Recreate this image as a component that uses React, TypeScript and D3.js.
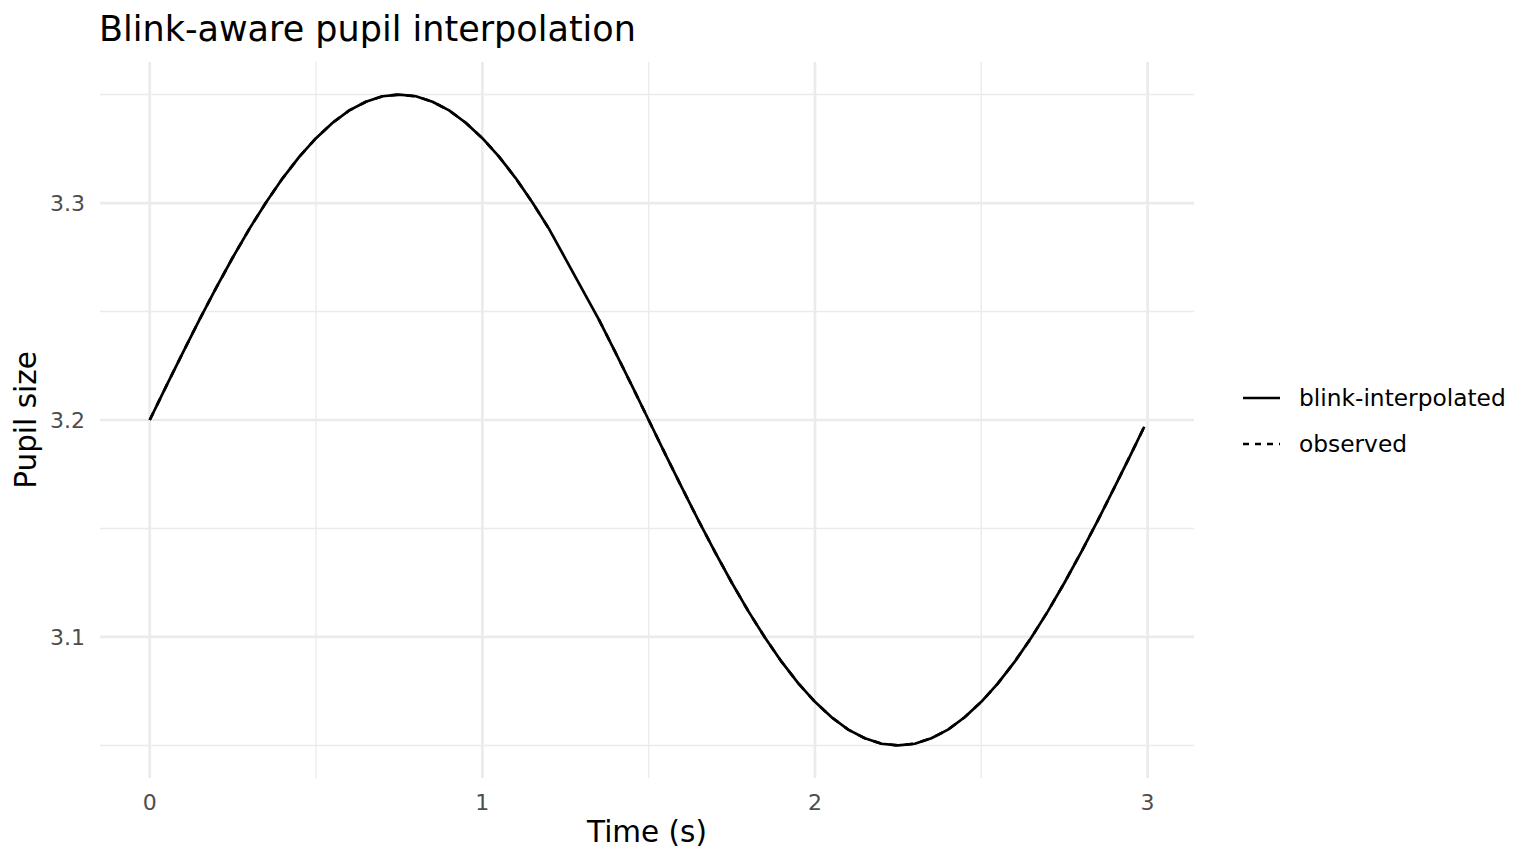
import React, { useEffect, useRef } from 'react';
import * as d3 from 'd3';

// time in seconds
const timeS = [
  0.0, 0.05, 0.1, 0.15, 0.2, 0.25, 0.3, 0.35, 0.4, 0.45, 0.5, 0.55, 0.6, 0.65, 0.7, 0.75,
  0.8, 0.85, 0.9, 0.95, 1.0, 1.05, 1.1, 1.15, 1.2, 1.25, 1.3, 1.35, 1.4, 1.45, 1.5, 1.55,
  1.6, 1.65, 1.7, 1.75, 1.8, 1.85, 1.9, 1.95, 2.0, 2.05, 2.1, 2.15, 2.2, 2.25, 2.3, 2.35,
  2.4, 2.45, 2.5, 2.55, 2.6, 2.65, 2.7, 2.75, 2.8, 2.85, 2.9, 2.95, 2.99,
];

// observed pupil size, blink samples missing
const observedPupil: (number | null)[] = [
  3.2, 3.2157, 3.2312, 3.2464, 3.261, 3.275, 3.2882, 3.3004, 3.3115, 3.3214, 3.3299, 3.337,
  3.3427, 3.3467, 3.3492, 3.35, 3.3492, 3.3467, 3.3427, 3.337, 3.3299, 3.3214, 3.3115, 3.3004,
  3.2882, null, null, 3.2464, 3.2312, 3.2157, 3.2, 3.1843, 3.1688, 3.1536, 3.139, 3.125,
  3.1118, 3.0996, 3.0885, 3.0786, 3.0701, 3.063, 3.0573, 3.0533, 3.0508, 3.05, 3.0508, 3.0533,
  3.0573, 3.063, 3.0701, 3.0786, 3.0885, 3.0996, 3.1118, 3.125, 3.139, 3.1536, 3.1688, 3.1843,
  3.1969,
];

// after linear fill across the blink
const interpolatedPupil = [
  3.2, 3.2157, 3.2312, 3.2464, 3.261, 3.275, 3.2882, 3.3004, 3.3115, 3.3214, 3.3299, 3.337,
  3.3427, 3.3467, 3.3492, 3.35, 3.3492, 3.3467, 3.3427, 3.337, 3.3299, 3.3214, 3.3115, 3.3004,
  3.2882, 3.2743, 3.2603, 3.2464, 3.2312, 3.2157, 3.2, 3.1843, 3.1688, 3.1536, 3.139, 3.125,
  3.1118, 3.0996, 3.0885, 3.0786, 3.0701, 3.063, 3.0573, 3.0533, 3.0508, 3.05, 3.0508, 3.0533,
  3.0573, 3.063, 3.0701, 3.0786, 3.0885, 3.0996, 3.1118, 3.125, 3.139, 3.1536, 3.1688, 3.1843,
  3.1969,
];

const xTicks = [0, 1, 2, 3];
const xMinor = [0.5, 1.5, 2.5];
const yTicks = [3.1, 3.2, 3.3];
const yMinor = [3.05, 3.15, 3.25, 3.35];
const seriesNames = ['blink-interpolated', 'observed'];

const width = 1536;
const height = 864;

export default function App() {
  const svgRef = useRef<SVGSVGElement>(null);

  useEffect(() => {
    if (!svgRef.current) return;
    const svg = d3.select(svgRef.current);
    svg.selectAll('*').remove();

    const font = '"DejaVu Sans", sans-serif';
    const panel = { left: 100, right: 1194, top: 62, bottom: 778 };

    const xExt = d3.extent(timeS) as [number, number];
    const xPad = (xExt[1] - xExt[0]) * 0.05;
    const x = d3.scaleLinear().domain([xExt[0] - xPad, xExt[1] + xPad]).range([panel.left, panel.right]);

    const yExt = d3.extent(interpolatedPupil) as [number, number];
    const yPad = (yExt[1] - yExt[0]) * 0.05;
    const y = d3.scaleLinear().domain([yExt[0] - yPad, yExt[1] + yPad]).range([panel.bottom, panel.top]);

    svg.append('rect').attr('width', width).attr('height', height).attr('fill', '#ffffff');

    const grid = svg.append('g');
    yMinor.forEach(v => {
      grid.append('line').attr('x1', panel.left).attr('x2', panel.right).attr('y1', y(v)).attr('y2', y(v))
        .attr('stroke', '#ebebeb').attr('stroke-width', 1.35);
    });
    xMinor.forEach(v => {
      grid.append('line').attr('x1', x(v)).attr('x2', x(v)).attr('y1', panel.top).attr('y2', panel.bottom)
        .attr('stroke', '#ebebeb').attr('stroke-width', 1.35);
    });
    yTicks.forEach(v => {
      grid.append('line').attr('x1', panel.left).attr('x2', panel.right).attr('y1', y(v)).attr('y2', y(v))
        .attr('stroke', '#ebebeb').attr('stroke-width', 2.7);
    });
    xTicks.forEach(v => {
      grid.append('line').attr('x1', x(v)).attr('x2', x(v)).attr('y1', panel.top).attr('y2', panel.bottom)
        .attr('stroke', '#ebebeb').attr('stroke-width', 2.7);
    });

    const obs = timeS.map((t, i) => ({ t, v: observedPupil[i] }));
    const interp = timeS.map((t, i) => ({ t, v: interpolatedPupil[i] as number | null }));

    const line = d3.line<{ t: number; v: number | null }>()
      .defined(d => d.v !== null)
      .x(d => x(d.t)).y(d => y(d.v as number));

    svg.append('path').datum(interp).attr('d', line)
      .attr('fill', 'none').attr('stroke', '#000000').attr('stroke-width', 2.7)
      .attr('stroke-linejoin', 'round');
    svg.append('path').datum(obs).attr('d', line)
      .attr('fill', 'none').attr('stroke', '#000000').attr('stroke-width', 2.7)
      .attr('stroke-dasharray', '8,8');

    // tick labels
    xTicks.forEach(v => {
      svg.append('text').attr('x', x(v)).attr('y', 810).attr('text-anchor', 'middle')
        .attr('font-family', font).attr('font-size', 22).attr('fill', '#4d4d4d').text(String(v));
    });
    yTicks.forEach(v => {
      svg.append('text').attr('x', 85).attr('y', y(v) + 8).attr('text-anchor', 'end')
        .attr('font-family', font).attr('font-size', 22).attr('fill', '#4d4d4d').text(v.toFixed(1));
    });

    // titles
    svg.append('text').attr('x', 99).attr('y', 41).attr('font-family', font).attr('font-size', 35)
      .attr('fill', '#000000').text('Blink-aware pupil interpolation');
    svg.append('text').attr('x', (panel.left + panel.right) / 2).attr('y', 842).attr('text-anchor', 'middle')
      .attr('font-family', font).attr('font-size', 29.5).attr('fill', '#000000').text('Time (s)');
    svg.append('text').attr('transform', `translate(36,${(panel.top + panel.bottom) / 2}) rotate(-90)`)
      .attr('text-anchor', 'middle').attr('font-family', font).attr('font-size', 29.5).attr('fill', '#000000')
      .text('Pupil size');

    // legend
    const legend = svg.append('g').attr('transform', 'translate(1243,398)');
    seriesNames.forEach((name, i) => {
      const row = legend.append('g').attr('transform', `translate(0,${i * 46})`);
      row.append('line').attr('x1', 0).attr('x2', 37).attr('y1', 0).attr('y2', 0)
        .attr('stroke', '#000000').attr('stroke-width', 2.7)
        .attr('stroke-dasharray', name === 'observed' ? '6,6' : null);
      row.append('text').attr('x', 56).attr('y', 8).attr('font-family', font).attr('font-size', 23.3)
        .attr('fill', '#000000').text(name);
    });
  }, []);

  return (
    <div style={{ position: 'fixed', left: 0, top: 0 }}>
      <svg ref={svgRef} width={width} height={height} viewBox={`0 0 ${width} ${height}`} style={{ display: 'block' }} />
    </div>
  );
}
